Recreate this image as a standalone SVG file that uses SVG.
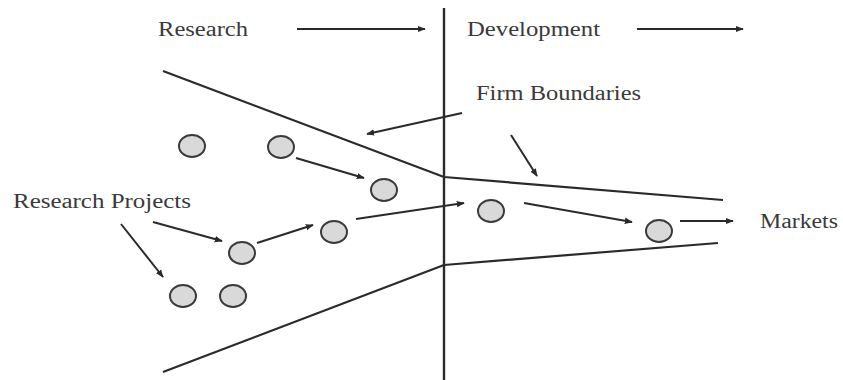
<svg xmlns="http://www.w3.org/2000/svg" width="843" height="380" viewBox="0 0 843 380">
  <style>
    .lbl { font-family: "Liberation Serif", "Times New Roman", serif; font-size: 20px; fill: #3a3a3a; }
    .bound { fill: none; stroke: #2a2a2a; stroke-width: 2.2; stroke-linejoin: round; }
    .conn line { stroke: #2a2a2a; stroke-width: 2; marker-end: url(#arr); }
    .proj ellipse { fill: #d9d9d9; stroke: #3a3a3a; stroke-width: 2; }
  </style>
  <defs>
    <marker id="arr" viewBox="0 0 10 10" refX="9" refY="5" markerWidth="4" markerHeight="4" orient="auto" markerUnits="strokeWidth">
      <path d="M0,1 L10,5 L0,9 z" fill="#2a2a2a"/>
    </marker>
  </defs>
  <rect width="843" height="380" fill="#ffffff"/>

  <!-- phase divider and firm boundary funnel -->
  <g id="frame">
    <line x1="444" y1="8" x2="444" y2="380" stroke="#2a2a2a" stroke-width="2.4"/>
    <polyline class="bound" points="163,71 444,177 723,200"/>
    <polyline class="bound" points="163,372 444,265 718,243"/>
  </g>

  <!-- labels -->
  <g id="label-research"><text class="lbl" x="158" y="36" textLength="90" lengthAdjust="spacingAndGlyphs">Research</text></g>
  <g id="label-development"><text class="lbl" x="467" y="36" textLength="133" lengthAdjust="spacingAndGlyphs">Development</text></g>
  <g id="label-firm"><text class="lbl" x="476" y="100" textLength="165" lengthAdjust="spacingAndGlyphs">Firm Boundaries</text></g>
  <g id="label-projects"><text class="lbl" x="13" y="208" textLength="178" lengthAdjust="spacingAndGlyphs">Research Projects</text></g>
  <g id="label-markets"><text class="lbl" x="760" y="228" textLength="78" lengthAdjust="spacingAndGlyphs">Markets</text></g>

  <!-- projects -->
  <g class="proj">
    <g id="p1"><ellipse cx="192" cy="146" rx="13" ry="11"/></g>
    <g id="p2"><ellipse cx="281" cy="147" rx="13" ry="11"/></g>
    <g id="p3"><ellipse cx="384" cy="190" rx="13" ry="11"/></g>
    <g id="p4"><ellipse cx="334" cy="232" rx="13" ry="11"/></g>
    <g id="p5"><ellipse cx="242" cy="253" rx="13" ry="11"/></g>
    <g id="p6"><ellipse cx="183" cy="296" rx="13" ry="11"/></g>
    <g id="p7"><ellipse cx="233" cy="296" rx="13" ry="11"/></g>
    <g id="p8"><ellipse cx="491" cy="211" rx="13" ry="11"/></g>
    <g id="p9"><ellipse cx="659" cy="231" rx="13" ry="11"/></g>
  </g>

  <!-- connectors -->
  <g id="connectors" class="conn">
    <line x1="297" y1="29" x2="425" y2="29"/>
    <line x1="637" y1="29" x2="743" y2="29"/>
    <line x1="462" y1="113" x2="367" y2="134"/>
    <line x1="511" y1="135" x2="537" y2="176"/>
    <line x1="296" y1="158" x2="364" y2="178"/>
    <line x1="257" y1="243" x2="313" y2="225"/>
    <line x1="356" y1="219" x2="464" y2="203"/>
    <line x1="153" y1="222" x2="222" y2="241"/>
    <line x1="121" y1="224" x2="163" y2="277"/>
    <line x1="524" y1="203" x2="632" y2="222"/>
    <line x1="680" y1="221" x2="733" y2="221"/>
  </g>
</svg>
